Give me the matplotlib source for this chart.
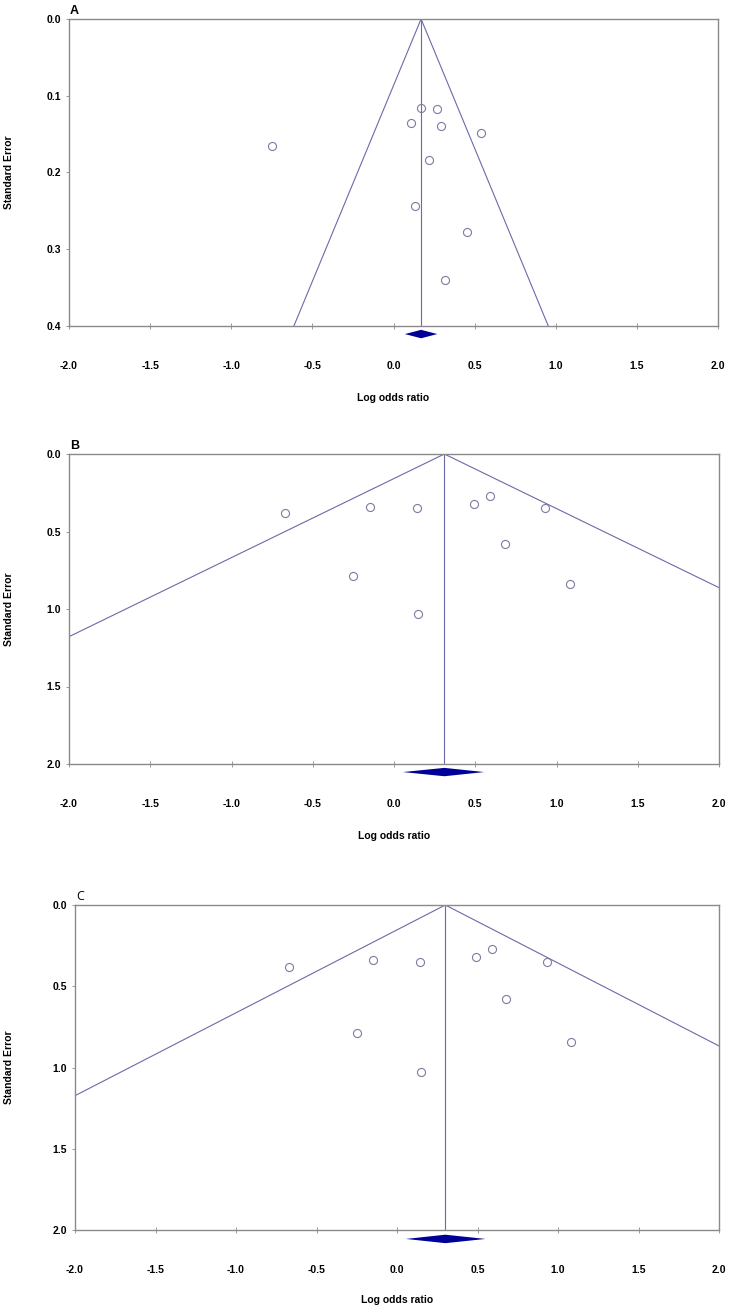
# funnel plots (A, B, C) - log odds ratio vs standard error
import numpy as np
import matplotlib
matplotlib.use('Agg')
import matplotlib.pyplot as plt

# panel A studies
a_lor = [0.17, 0.27, 0.11, 0.29, 0.54, 0.22, 0.13, 0.45, 0.32, -0.75]
a_se = [0.116, 0.117, 0.136, 0.139, 0.149, 0.184, 0.243, 0.278, 0.340, 0.165]
a_pool = [0.07, 0.17, 0.27]  # lower, estimate, upper

# panel B studies
b_lor = [-0.67, -0.15, 0.14, 0.49, 0.59, 0.93, 0.68, -0.25, 1.08, 0.15]
b_se = [0.38, 0.34, 0.35, 0.32, 0.27, 0.35, 0.58, 0.79, 0.84, 1.03]
b_pool = [0.055, 0.31, 0.555]

# panel C (same studies as B)
c_lor = [-0.67, -0.15, 0.14, 0.49, 0.59, 0.93, 0.68, -0.25, 1.08, 0.15]
c_se = [0.38, 0.34, 0.35, 0.32, 0.27, 0.35, 0.58, 0.79, 0.84, 1.03]
c_pool = [0.055, 0.30, 0.55]

xticks = [-2.0, -1.5, -1.0, -0.5, 0.0, 0.5, 1.0, 1.5, 2.0]
a_yticks = [0.0, 0.1, 0.2, 0.3, 0.4]
bc_yticks = [0.0, 0.5, 1.0, 1.5, 2.0]

W, H = 732, 1315
fig = plt.figure(figsize=(W / 100, H / 100), dpi=100)

LINE = '#6a6aa8'
FRAME = '#8a8a8a'
DIAM = '#000099'


def panel(rect, lor, se, pool, yticks, letter, fam, letter_fam, letter_bold, diam_y, diam_h, xlab_y):
    l, t, r, b = rect
    ax = fig.add_axes([l / W, 1 - b / H, (r - l) / W, (b - t) / H])
    ymax = yticks[-1]
    ax.set_xlim(-2.0, 2.0)
    ax.set_ylim(ymax, 0.0)

    # funnel (pooled +- 1.96 SE) and vertical line at pooled estimate
    est = pool[1]
    ax.plot([est - 1.96 * ymax, est, est + 1.96 * ymax], [ymax, 0, ymax],
            color=LINE, lw=0.8, clip_on=True)
    ax.plot([est, est], [0, ymax], color=LINE, lw=0.8)

    ax.plot(lor, se, 'o', ms=5.8, mfc='none', mec='#7c7ca0', mew=0.8, clip_on=False)

    # summary diamond under the axis
    xs = [pool[0], est, pool[2], est]
    ys = [diam_y, diam_y - diam_h, diam_y, diam_y + diam_h]
    ax.fill(xs, ys, color=DIAM, clip_on=False, lw=0)

    for s in ax.spines.values():
        s.set_color(FRAME)
        s.set_linewidth(1.0)
    ax.set_xticks(xticks)
    ax.set_yticks(yticks)
    ax.set_xticklabels(['%.1f' % v for v in xticks], fontsize=7.5, fontweight='bold', family=fam)
    ax.set_yticklabels(['%.1f' % v for v in yticks], fontsize=7.5, fontweight='bold', family=fam)
    ax.tick_params(axis='x', direction='inout', length=4, width=0.6, color=FRAME, pad=23)
    ax.tick_params(axis='y', direction='out', length=2, width=0.6, color=FRAME, pad=4)

    fig.text(((l + r) / 2) / W, 1 - xlab_y / H, 'Log odds ratio', ha='center', va='center',
             fontsize=7.5, fontweight='bold', family=fam)
    fig.text(9 / W, 1 - ((t + b) / 2) / H, 'Standard Error', rotation=90, ha='center',
             va='center', fontsize=7.5, fontweight='bold', family=fam)
    fig.text((l + 1) / W, 1 - (t - 8) / H, letter, ha='left', va='center', fontsize=9,
             fontweight='bold' if letter_bold else 'normal', family=letter_fam)
    return ax


sans = ['Liberation Sans', 'DejaVu Sans']
narrow = ['Liberation Sans Narrow', 'Liberation Sans', 'DejaVu Sans']

panel((69, 19, 718, 326), a_lor, a_se, a_pool, a_yticks, 'A', sans, sans, True,
      0.4105, 0.0055, 398)
panel((69, 454, 719, 764), b_lor, b_se, b_pool, bc_yticks, 'B', narrow, sans, True,
      2.052, 0.027, 836)
panel((75, 905, 719, 1230), c_lor, c_se, c_pool, bc_yticks, 'C', narrow,
      ['Open Sans', 'DejaVu Sans'], False, 2.055, 0.026, 1300)

fig.savefig('out.png', dpi=100)
